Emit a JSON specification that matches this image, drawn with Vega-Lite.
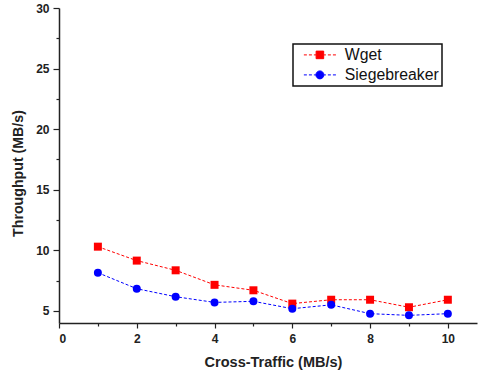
{
  "$schema": "https://vega.github.io/schema/vega-lite/v6.json",
  "width": 418,
  "height": 315,
  "autosize": "none",
  "padding": {"left": 59, "top": 8, "right": 2, "bottom": 52},
  "background": "white",
  "config": {
    "view": {"stroke": null},
    "font": "Liberation Sans"
  },
  "data": {
    "values": [
      {"x": 1, "y": 10.3, "series": "Wget"},
      {"x": 2, "y": 9.15, "series": "Wget"},
      {"x": 3, "y": 8.35, "series": "Wget"},
      {"x": 4, "y": 7.15, "series": "Wget"},
      {"x": 5, "y": 6.7, "series": "Wget"},
      {"x": 6, "y": 5.6, "series": "Wget"},
      {"x": 7, "y": 5.92, "series": "Wget"},
      {"x": 8, "y": 5.92, "series": "Wget"},
      {"x": 9, "y": 5.3, "series": "Wget"},
      {"x": 10, "y": 5.92, "series": "Wget"},
      {"x": 1, "y": 8.15, "series": "Siegebreaker"},
      {"x": 2, "y": 6.83, "series": "Siegebreaker"},
      {"x": 3, "y": 6.17, "series": "Siegebreaker"},
      {"x": 4, "y": 5.7, "series": "Siegebreaker"},
      {"x": 5, "y": 5.79, "series": "Siegebreaker"},
      {"x": 6, "y": 5.18, "series": "Siegebreaker"},
      {"x": 7, "y": 5.5, "series": "Siegebreaker"},
      {"x": 8, "y": 4.77, "series": "Siegebreaker"},
      {"x": 9, "y": 4.63, "series": "Siegebreaker"},
      {"x": 10, "y": 4.77, "series": "Siegebreaker"}
    ]
  },
  "encoding": {
    "x": {
      "field": "x", "type": "quantitative",
      "scale": {"domain": [0, 10.75], "nice": false, "zero": false},
      "axis": {
        "title": "Cross-Traffic (MB/s)",
        "values": [0,1,2,3,4,5,6,7,8,9,10],
        "labelExpr": "datum.value % 2 == 0 ? datum.label : ''",
        "grid": false,
        "domainColor": "#222", "domainWidth": 1.5,
        "tickColor": "#222", "tickWidth": 1.2,
        "tickSize": {"condition": {"test": "datum.value % 2 != 0", "value": 3}, "value": 5},
        "labelFont": "Liberation Sans", "labelFontWeight": "bold", "labelFontSize": 12, "labelColor": "#222",
        "labelPadding": 5,
        "titleFont": "Liberation Sans", "titleFontWeight": "bold", "titleFontSize": 14.5, "titleColor": "#222",
        "titlePadding": 11,
        "titleX": 214
      }
    },
    "y": {
      "field": "y", "type": "quantitative",
      "scale": {"domain": [4, 30], "nice": false, "zero": false},
      "axis": {
        "title": "Throughput (MB/s)",
        "values": [5, 7.5, 10, 12.5, 15, 17.5, 20, 22.5, 25, 27.5, 30],
        "labelExpr": "datum.value % 5 == 0 ? datum.label : ''",
        "grid": false,
        "domainColor": "#222", "domainWidth": 1.5,
        "tickColor": "#222", "tickWidth": 1.2,
        "tickSize": {"condition": {"test": "datum.value % 5 != 0", "value": 3}, "value": 6},
        "labelFont": "Liberation Sans", "labelFontWeight": "bold", "labelFontSize": 12, "labelColor": "#222",
        "labelPadding": 4,
        "titleFont": "Liberation Sans", "titleFontWeight": "bold", "titleFontSize": 14.2, "titleColor": "#222",
        "titlePadding": 10,
        "titleY": 165
      }
    },
    "color": {
      "field": "series", "type": "nominal",
      "scale": {"domain": ["Wget", "Siegebreaker"], "range": ["#ff0000", "#0000ff"]},
      "legend": {
        "title": null,
        "orient": "none",
        "legendX": 234,
        "legendY": 36,
        "padding": 3,
        "strokeColor": "#111",
        "fillColor": "white",
        "labelFont": "Liberation Sans",
        "labelFontSize": 15.8,
        "labelColor": "#111",
        "symbolSize": 196,
        "symbolOffset": 16,
        "labelOffset": 17,
        "rowPadding": 3,
        "symbolStrokeWidth": 1,
        "encode": {
          "legend": {"update": {"strokeWidth": {"value": 1.5}}},
          "symbols": {
            "update": {
              "shape": {"signal": "datum.value == 'Wget' ? 'M-2.29,0H-1.86M-1.57,0H-1.14M-0.86,0H-0.54M0.54,0H0.86M1.14,0H1.57M1.86,0H2.29M-0.54,-0.54H0.54V0.54H-0.54Z' : 'M-2.29,0H-1.86M-1.57,0H-1.14M-0.86,0H-0.57M0.57,0H0.86M1.14,0H1.57M1.86,0H2.29M0.57,0A0.57,0.57 0 1,1 -0.57,0A0.57,0.57 0 1,1 0.57,0Z'"},
              "fill": {"signal": "datum.value == 'Wget' ? '#ff0000' : '#0000ff'"},
              "stroke": {"signal": "datum.value == 'Wget' ? '#ff0000' : '#0000ff'"},
              "strokeDash": {"value": []},
              "strokeWidth": {"value": 1},
              "opacity": {"value": 1}
            }
          }
        }
      }
    }
  },
  "layer": [
    {"mark": {"type": "line", "strokeDash": [3, 2], "strokeWidth": 1}},
    {
      "transform": [{"filter": "datum.series == 'Wget'"}],
      "mark": {"type": "point", "shape": "square", "filled": true, "opacity": 1, "size": 64}
    },
    {
      "transform": [{"filter": "datum.series == 'Siegebreaker'"}],
      "mark": {"type": "point", "shape": "circle", "filled": true, "opacity": 1, "size": 64}
    }
  ]
}
